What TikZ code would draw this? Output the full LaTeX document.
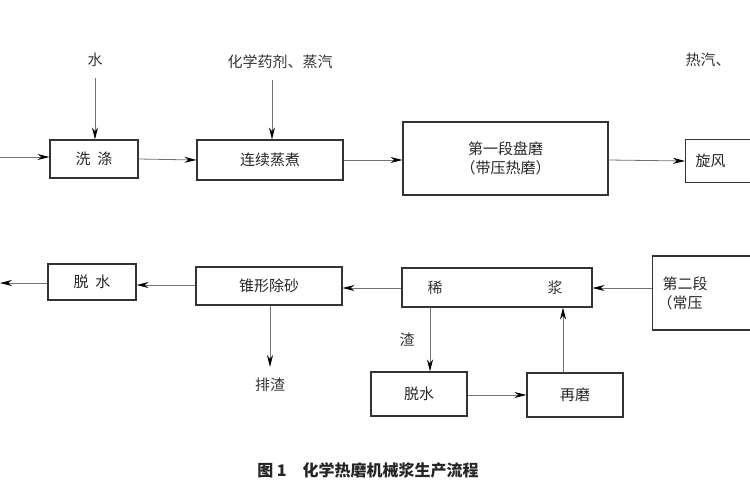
\documentclass[tikz,border=0pt]{standalone}
\usepackage{fontspec}
\setmainfont{Noto Sans CJK SC}
\usetikzlibrary{arrows.meta}
\begin{document}
\begin{tikzpicture}[x=1pt,y=-1pt,
  box/.style={draw=black!80,line width=1.1pt,inner sep=0pt,font=\fontsize{15}{19}\selectfont,text=black!85,align=center},
  lbl/.style={font=\fontsize{15}{18}\selectfont,text=black!80},
  arr/.style={draw=black!55,line width=0.8pt,-{Stealth[length=12pt,width=6pt,color=black]}}]
\useasboundingbox (0,0) rectangle (750,500);
\clip (0,0) rectangle (750,500);
% row 1
\coordinate (in1) at (0,157);
\node[box,minimum width=88pt,minimum height=38pt] (xd) at (94,159) {洗\ \ 涤};
\node[box,minimum width=146pt,minimum height=40pt] (lx) at (270,160) {连续蒸煮};
\node[box,minimum width=205pt,minimum height=73pt] (d1) at (505.5,158.5) {第一段盘磨\\（带压热磨）};
\node[box,minimum width=120pt,minimum height=43pt,anchor=west,text width=110pt,align=left] (xf) at (685,161) {\ 旋风};
\node[lbl] (shui) at (95,60) {水};
\node[lbl] (hx) at (280,62) {化学药剂、蒸汽};
\node[lbl,anchor=west] (rq) at (682,60) {热汽、};
\draw[arr] (in1) -- (xd.west|-in1);
\draw[arr] (shui.south) ++(0,8) -- (xd.north-|shui);
\draw[arr] (272,80) -- (lx.north-|272,0);
\draw[arr] (xd.east) -- (lx.west);
\draw[arr] (lx.east) -- (d1.west|-lx.east);
\draw[arr] (d1.east|-0,160) -- (xf.west);
% row 2
\node[box,minimum width=88pt,minimum height=36pt] (ts) at (92,282) {脱\ \ 水};
\node[box,minimum width=146pt,minimum height=38pt] (zx) at (269,286) {锥形除砂};
\node[box,minimum width=190pt,minimum height=39pt] (xj) at (497,287.5) {};
\node[lbl] at (435,288) {稀};
\node[lbl] at (555,288) {浆};
\node[box,minimum width=140pt,minimum height=74pt,anchor=west,text width=130pt,align=left] (d2) at (652,293) {\ 第二段\\（常压};
\coordinate (out2) at (0,283);
\draw[arr] (ts.west|-out2) -- (out2);
\draw[arr] (zx.west|-0,285) -- (ts.east|-0,285);
\draw[arr] (xj.west|-0,288) -- (zx.east|-0,288);
\draw[arr] (d2.west|-0,288) -- (xj.east|-0,288);
\node[lbl] (pz) at (270,385) {排渣};
\draw[arr] (zx.south-|270,0) -- (270,367);
\node[box,minimum width=96pt,minimum height=44pt] (ts2) at (419,394) {脱水};
\node[box,minimum width=96pt,minimum height=44pt] (zm) at (575,395) {再磨};
\node[lbl] at (407,340) {渣};
\draw[arr] (xj.south-|430,0) -- (ts2.north-|430,0);
\draw[arr] (ts2.east|-0,395) -- (zm.west|-0,395);
\draw[arr] (zm.north-|563,0) -- (xj.south-|563,0);
% caption
\node[font=\fontsize{16}{19}\selectfont\bfseries,text=black!85] (cap) at (368,470) {图 1\quad 化学热磨机械浆生产流程};
\end{tikzpicture}
\end{document}
